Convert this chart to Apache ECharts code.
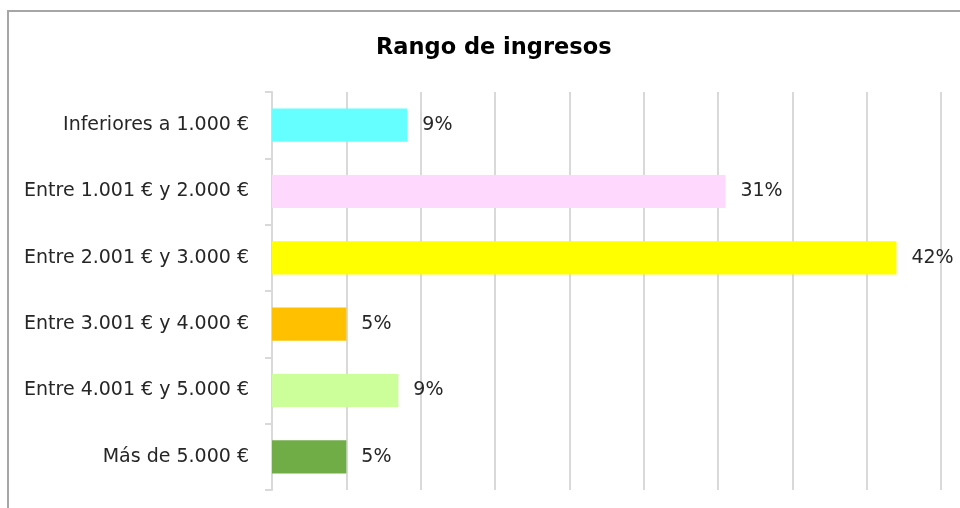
<!DOCTYPE html>
<html>
<head>
<meta charset="utf-8">
<script src="https://cdn.jsdelivr.net/npm/echarts@6/dist/echarts.min.js"></script>
<style>
  html, body { margin: 0; padding: 0; background: #fff; }
  #chart { width: 960px; height: 508px; }
</style>
</head>
<body>
<div id="chart"></div>
<script>
// datos
var categorias = ['Inferiores a 1.000 €', 'Entre 1.001 € y 2.000 €', 'Entre 2.001 € y 3.000 €',
  'Entre 3.001 € y 4.000 €', 'Entre 4.001 € y 5.000 €', 'Más de 5.000 €'];
var porcentajes = [9.1, 30.5, 42.0, 5.0, 8.5, 5.0];
var colores = ['#66FFFF', '#FFD9FD', '#FFFF00', '#FFC000', '#CCFF99', '#70AD47'];

var fuente = '"DejaVu Sans", sans-serif';

function getBarChart() {
  let chart = echarts.init(document.getElementById('chart'));
  let option = {
    backgroundColor: '#fff',
    animation: false,
    title: {
      text: 'Rango de ingresos',
      left: 371,
      top: 32,
      textStyle: { fontFamily: fuente, fontSize: 22.5, fontWeight: 'bold', color: '#000' }
    },
    graphic: [{
      type: 'rect',
      shape: { x: 8, y: 11, width: 1000, height: 600 },
      style: { fill: 'none', stroke: '#a6a6a6', lineWidth: 2 },
      silent: true
    }],
    grid: { left: 272, right: 19, top: 92, bottom: 18 },
    xAxis: {
      type: 'value',
      min: 0,
      max: 45,
      interval: 5,
      axisLabel: { show: false },
      axisLine: { show: false },
      axisTick: { show: false },
      splitLine: { show: true, lineStyle: { color: '#d9d9d9', width: 2 } }
    },
    yAxis: {
      type: 'category',
      inverse: true,
      data: categorias,
      axisLine: { show: true, lineStyle: { color: '#d9d9d9', width: 2 } },
      axisTick: { show: true, length: 7, lineStyle: { color: '#d9d9d9', width: 2 } },
      axisLabel: { margin: 23, fontFamily: fuente, fontSize: 19, color: '#262626' }
    },
    series: [{
      type: 'bar',
      barCategoryGap: '50%',
      data: porcentajes.map(function (v, i) {
        return { value: v, itemStyle: { color: colores[i] } };
      }),
      label: {
        show: true,
        position: 'right',
        distance: 15,
        fontFamily: fuente,
        fontSize: 19,
        color: '#262626',
        formatter: function (p) { return Math.round(p.value) + '%'; }
      }
    }]
  };
  chart.setOption(option);
}

getBarChart();
</script>
</body>
</html>
